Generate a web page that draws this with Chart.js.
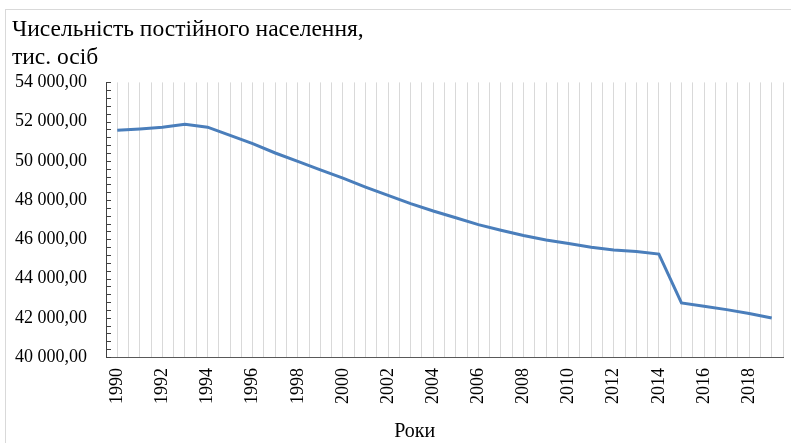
<!DOCTYPE html>
<html>
<head>
<meta charset="utf-8">
<script src="https://cdn.jsdelivr.net/npm/chart.js@4.4.1/dist/chart.umd.min.js"></script>
<style>
  body { margin: 0; background: #fff; }
  #wrap { position: relative; width: 791px; height: 443px; }
  #frame { position: absolute; left: 5px; top: 9px; width: 800px; height: 450px;
           border-left: 1px solid #d9d9d9; border-top: 1px solid #d9d9d9; }
</style>
</head>
<body>
<div id="wrap">
  <div id="frame"></div>
  <canvas id="grafico"></canvas>
</div>
<script>
// ---------------- datos ----------------
const roky = [1990, 1991, 1992, 1993, 1994, 1995, 1996, 1997, 1998, 1999,
              2000, 2001, 2002, 2003, 2004, 2005, 2006, 2007, 2008, 2009,
              2010, 2011, 2012, 2013, 2014, 2015, 2016, 2017, 2018, 2019];

// чисельність постійного населення, тис. осіб
const naselennia = [51556.5, 51623.5, 51708.2, 51870.4, 51715.4, 51300.4, 50874.1, 50400.0, 49973.5, 49544.8,
                    49115.0, 48663.6, 48240.9, 47823.1, 47442.1, 47100.5, 46749.2, 46465.7, 46192.3, 45963.4,
                    45782.6, 45598.2, 45453.3, 45372.7, 45245.9, 42759.7, 42590.9, 42414.9, 42216.8, 41983.6];

const yTicks = [40000, 42000, 44000, 46000, 48000, 50000, 52000, 54000];
const titulo = ["Чисельність постійного населення,", "тис. осіб"];
const tituloX = "Роки";

const serif = "'Liberation Serif', 'Times New Roman', serif";

function formatoNum(v) {
    return String(v).replace(/\B(?=(\d{3})+(?!\d))/g, " ") + ",00";
}

// ticks menores hacia dentro y titulo del eje X
const extras = {
    id: "extras",
    afterDraw(chart) {
        const { ctx, chartArea, scales } = chart;
        const y = scales.y;
        ctx.save();
        ctx.strokeStyle = "#404040";
        ctx.lineWidth = 1;
        ctx.beginPath();
        for (let v = y.min; v <= y.max + 1e-6; v += 400) {
            const py = Math.round(y.getPixelForValue(v)) + 0.5;
            ctx.moveTo(chartArea.left, py);
            ctx.lineTo(chartArea.left + 5, py);
        }
        ctx.stroke();
        ctx.fillStyle = "#000";
        ctx.font = "20px " + serif;
        ctx.textAlign = "center";
        ctx.textBaseline = "alphabetic";
        ctx.fillText(tituloX, chartArea.left + (chartArea.right - chartArea.left) * 0.456, 437);
        ctx.restore();
    },
};

const ctx = document.getElementById("grafico").getContext("2d");
const grafico = new Chart(ctx, {
    type: "line",
    data: {
        datasets: [
            {
                data: roky.map((r, i) => ({ x: r, y: naselennia[i] })),
                borderColor: "#4a7ebb",
                borderWidth: 3,
                pointRadius: 0,
                tension: 0,
                fill: false,
            },
        ],
    },
    options: {
        responsive: true,
        maintainAspectRatio: false,
        animation: false,
        layout: { padding: { left: 12, top: 10, right: 8, bottom: 0 } },
        plugins: {
            legend: { display: false },
            tooltip: { enabled: false },
            title: {
                display: true,
                text: titulo,
                align: "start",
                color: "#000",
                font: { family: serif, size: 23.5, weight: "normal", lineHeight: 1.2 },
                padding: { top: 6, bottom: 10 },
            },
        },
        scales: {
            x: {
                type: "linear",
                min: roky[0] - 0.5,
                max: roky[roky.length - 1] + 0.5,
                afterFit: (s) => {
                    s.height = 86;
                    s.paddingLeft = 0;
                    s.paddingRight = 0;
                },
                grid: { color: "#d9d9d9", lineWidth: 1, drawTicks: false },
                border: { color: "#595959", width: 1 },
                ticks: {
                    stepSize: 0.5,
                    maxTicksLimit: 200,
                    autoSkip: false,
                    minRotation: 90,
                    maxRotation: 90,
                    padding: 11,
                    color: "#000",
                    font: { family: serif, size: 18 },
                    callback: (v) => {
                        const r = Math.round(v);
                        return Math.abs(v - r) < 1e-6 && r % 2 === 0 ? String(r) : "";
                    },
                },
            },
            y: {
                min: yTicks[0],
                max: yTicks[yTicks.length - 1],
                afterFit: (s) => {
                    s.width = 94;
                    s.paddingTop = 0;
                    s.paddingBottom = 0;
                },
                grid: { display: false, drawTicks: false },
                border: { display: true, color: "#404040", width: 1 },
                ticks: {
                    stepSize: 2000,
                    padding: 19,
                    color: "#000",
                    font: { family: serif, size: 18 },
                    callback: (v) => formatoNum(v),
                },
            },
        },
    },
    plugins: [extras],
});
</script>
</body>
</html>
